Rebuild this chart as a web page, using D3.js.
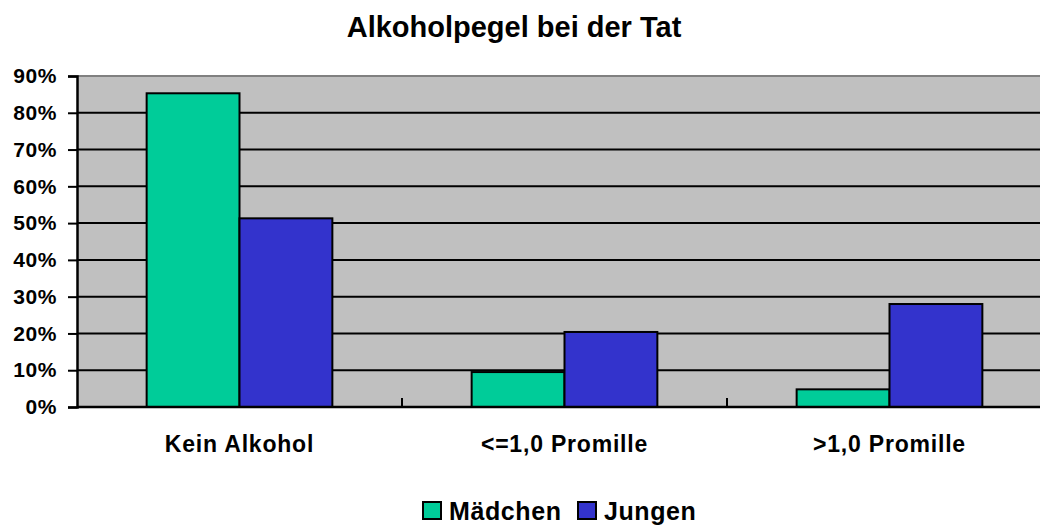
<!DOCTYPE html>
<html>
<head>
<meta charset="utf-8">
<script src="https://cdn.jsdelivr.net/npm/d3@7"></script>
<style>
  body { margin: 0; background: #fff; }
  svg { font-family: "Liberation Sans", Arial, sans-serif; font-weight: bold; }
</style>
</head>
<body>
<svg id="chart" width="1040" height="527"></svg>
<script>
// Chart data
var categories = ["Kein Alkohol", "<=1,0 Promille", ">1,0 Promille"];
var seriesNames = ["Mädchen", "Jungen"];
var maedchen = [85.3, 9.5, 4.8];
var jungen = [51.3, 20.4, 28.0];
var yTicks = [0, 10, 20, 30, 40, 50, 60, 70, 80, 90];
var colors = ["#00cc99", "#3333cc"];

function drawChart() {
	var svg = d3.select("#chart");
	var m = {left: 77, right: 1052, top: 76, bottom: 407};

	var x = d3.scaleBand()
		.domain(categories)
		.range([m.left, m.right]);

	var inner = d3.scaleBand()
		.domain(seriesNames)
		.range([0, x.bandwidth()])
		.paddingOuter(0.75)
		.paddingInner(0);

	var y = d3.scaleLinear()
		.domain([0, 90])
		.range([m.bottom, m.top]);

	// Plot background
	svg.append("rect")
		.attr("x", m.left)
		.attr("y", m.top)
		.attr("width", m.right - m.left)
		.attr("height", m.bottom - m.top)
		.attr("fill", "#c0c0c0");

	// Gridlines
	svg.append("g")
		.selectAll("line")
		.data(yTicks.slice(1, -1))
		.enter().append("line")
		.attr("x1", m.left)
		.attr("x2", m.right)
		.attr("y1", function(d) { return y(d); })
		.attr("y2", function(d) { return y(d); })
		.attr("stroke", "#000")
		.attr("stroke-width", 2);

	// Top border
	svg.append("line")
		.attr("x1", m.left).attr("x2", m.right)
		.attr("y1", y(90)).attr("y2", y(90))
		.attr("stroke", "#808080")
		.attr("stroke-width", 2);

	// Bars
	var data = [];
	categories.forEach(function(c, i) {
		data.push({cat: c, s: 0, v: maedchen[i]});
		data.push({cat: c, s: 1, v: jungen[i]});
	});

	svg.append("g")
		.selectAll("rect")
		.data(data)
		.enter().append("rect")
		.attr("x", function(d) { return x(d.cat) + inner(seriesNames[d.s]); })
		.attr("y", function(d) { return y(d.v); })
		.attr("width", inner.bandwidth())
		.attr("height", function(d) { return y(0) - y(d.v); })
		.attr("fill", function(d) { return colors[d.s]; })
		.attr("stroke", "#000")
		.attr("stroke-width", 2);

	// Y axis
	var yAxis = d3.axisLeft(y)
		.tickValues(yTicks)
		.tickSize(9)
		.tickPadding(11)
		.tickFormat(function(d) { return d + "%"; });

	var gy = svg.append("g")
		.attr("transform", "translate(" + m.left + ",0)")
		.call(yAxis);
	gy.select(".domain").attr("stroke", "#000").attr("stroke-width", 2.5);
	gy.selectAll(".tick line").attr("stroke", "#000").attr("stroke-width", 2);
	gy.selectAll("text")
		.attr("font-size", 21)
		.attr("letter-spacing", 0.6)
		.attr("font-weight", "bold")
		.attr("font-family", "Liberation Sans, Arial, sans-serif")
		.attr("fill", "#000");

	// X axis baseline and inner ticks
	svg.append("line")
		.attr("x1", m.left).attr("x2", m.right)
		.attr("y1", y(0)).attr("y2", y(0))
		.attr("stroke", "#000")
		.attr("stroke-width", 2.5);

	svg.append("g")
		.selectAll("line")
		.data(categories.slice(1))
		.enter().append("line")
		.attr("x1", function(d) { return x(d); })
		.attr("x2", function(d) { return x(d); })
		.attr("y1", y(0))
		.attr("y2", y(0) - 9)
		.attr("stroke", "#000")
		.attr("stroke-width", 2);

	// Category labels
	svg.append("g")
		.selectAll("text")
		.data(categories)
		.enter().append("text")
		.attr("x", function(d) { return x(d) + x.bandwidth() / 2; })
		.attr("y", 452)
		.attr("text-anchor", "middle")
		.attr("font-size", 23)
		.attr("letter-spacing", 0.8)
		.text(function(d) { return d; });

	// Title
	svg.append("text")
		.attr("x", 514)
		.attr("y", 37)
		.attr("text-anchor", "middle")
		.attr("font-size", 29)
		.text("Alkoholpegel bei der Tat");

	// Legend
	var legendX = [423, 578];
	var lg = svg.append("g")
		.selectAll("g")
		.data(seriesNames)
		.enter().append("g")
		.attr("transform", function(d, i) { return "translate(" + legendX[i] + ",502)"; });
	lg.append("rect")
		.attr("width", 18)
		.attr("height", 17)
		.attr("fill", function(d, i) { return colors[i]; })
		.attr("stroke", "#000")
		.attr("stroke-width", 2);
	lg.append("text")
		.attr("x", 26)
		.attr("y", 18)
		.attr("font-size", 25)
		.attr("letter-spacing", 0.6)
		.text(function(d) { return d; });
}

drawChart();
</script>
</body>
</html>
